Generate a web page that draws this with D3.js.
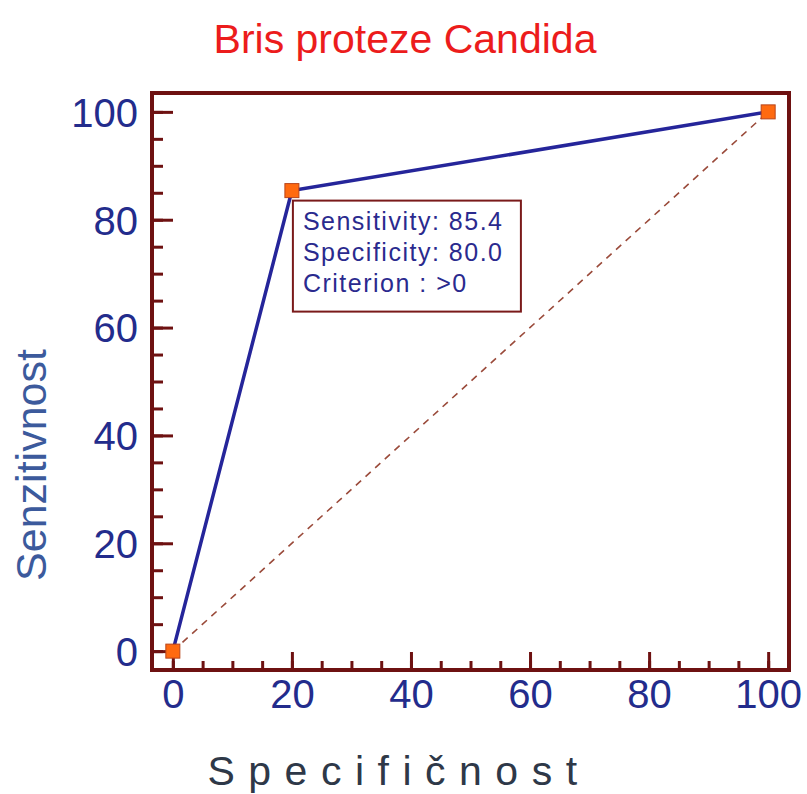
<!DOCTYPE html>
<html>
<head>
<meta charset="utf-8">
<script src="https://cdn.jsdelivr.net/npm/d3@7"></script>
<style>
  body { margin: 0; background: #fff; }
  text { font-family: "Liberation Sans", Arial, sans-serif; }
</style>
</head>
<body>
<script>
// ROC curve data
var specificity = [0, 20, 100];   // 100 - specificity
var sensitivity = [0, 85.4, 100];
var diagonal = [0, 100];
var majorTicks = [0, 20, 40, 60, 80, 100];
var minorTicks = d3.range(0, 101, 5);
var boxLines = ['Sensitivity: 85.4', 'Specificity: 80.0', 'Criterion : >0'];

var points = specificity.map(function(d, i) { return {x: d, y: sensitivity[i]}; });

var width = 807, height = 794;
var frame = {left: 152, right: 789, top: 93, bottom: 670};

var x = d3.scaleLinear().domain([-3.5, 103.5]).range([frame.left, frame.right]);
var y = d3.scaleLinear().domain([-3.5, 103.5]).range([frame.bottom, frame.top]);

var svg = d3.select('body').append('svg')
    .attr('width', width)
    .attr('height', height);

var axisColor = '#6e1111';
var labelColor = '#232c8c';

// title
svg.append('text')
    .attr('x', 405)
    .attr('y', 53)
    .attr('text-anchor', 'middle')
    .style('font-size', '41px')
    .style('fill', '#ec1c1c')
    .text('Bris proteze Candida');

// minor ticks
svg.append('g')
    .attr('transform', 'translate(' + frame.left + ',0)')
    .call(d3.axisLeft(y).tickValues(minorTicks).tickSizeInner(-11).tickSizeOuter(0).tickFormat(''))
    .call(function(g) { g.select('.domain').remove(); });
svg.append('g')
    .attr('transform', 'translate(0,' + frame.bottom + ')')
    .call(d3.axisBottom(x).tickValues(minorTicks).tickSizeInner(-9).tickSizeOuter(0).tickFormat(''))
    .call(function(g) { g.select('.domain').remove(); });

// major ticks + labels
var yAxis = svg.append('g')
    .attr('transform', 'translate(' + frame.left + ',0)')
    .call(d3.axisLeft(y).tickValues(majorTicks).tickSizeInner(-21).tickSizeOuter(0).tickPadding(14));
yAxis.select('.domain').remove();

var xAxis = svg.append('g')
    .attr('transform', 'translate(0,' + frame.bottom + ')')
    .call(d3.axisBottom(x).tickValues(majorTicks).tickSizeInner(-18).tickSizeOuter(0).tickPadding(10));
xAxis.select('.domain').remove();

svg.selectAll('.tick line')
    .style('stroke', axisColor)
    .style('stroke-width', 3);

yAxis.selectAll('text')
    .attr('dy', '0.36em')
    .style('font-size', '40px')
    .style('font-family', '"Liberation Sans", Arial, sans-serif')
    .style('fill', labelColor);

xAxis.selectAll('text')
    .attr('dy', '0.71em')
    .style('font-size', '40px')
    .style('font-family', '"Liberation Sans", Arial, sans-serif')
    .style('fill', labelColor);

// frame
svg.append('rect')
    .attr('x', frame.left)
    .attr('y', frame.top)
    .attr('width', frame.right - frame.left)
    .attr('height', frame.bottom - frame.top)
    .style('fill', 'none')
    .style('stroke', axisColor)
    .style('stroke-width', 4);

// diagonal reference line
svg.append('line')
    .attr('x1', x(diagonal[0])).attr('y1', y(diagonal[0]))
    .attr('x2', x(diagonal[1])).attr('y2', y(diagonal[1]))
    .style('stroke', '#9a4a3a')
    .style('stroke-width', 1.6)
    .style('stroke-dasharray', '7,6');

// ROC curve
var line = d3.line()
    .x(function(d) { return x(d.x); })
    .y(function(d) { return y(d.y); });

svg.append('path')
    .datum(points)
    .attr('d', line)
    .style('fill', 'none')
    .style('stroke', '#25259a')
    .style('stroke-width', 3.5);

// markers
svg.selectAll('.pt')
    .data(points)
    .enter()
    .append('rect')
    .attr('class', 'pt')
    .attr('x', function(d) { return x(d.x) - 7; })
    .attr('y', function(d) { return y(d.y) - 7; })
    .attr('width', 14)
    .attr('height', 14)
    .style('fill', '#ff6a10')
    .style('stroke', '#b8441a')
    .style('stroke-width', 1);

// info box
var bx = x(specificity[1]) + 1, by = y(sensitivity[1]) + 10;
svg.append('rect')
    .attr('x', bx)
    .attr('y', by)
    .attr('width', 228)
    .attr('height', 111)
    .style('fill', '#fff')
    .style('stroke', '#7a1a1a')
    .style('stroke-width', 2);

svg.selectAll('.info')
    .data(boxLines)
    .enter()
    .append('text')
    .attr('class', 'info')
    .attr('x', bx + 10)
    .attr('y', function(d, i) { return by + 29 + i * 31; })
    .style('font-size', '25px')
    .style('letter-spacing', '1.5px')
    .style('fill', '#2a2a8e')
    .text(function(d) { return d; });

// axis titles
svg.append('text')
    .attr('transform', 'translate(46,465) rotate(-90)')
    .attr('text-anchor', 'middle')
    .style('font-size', '43px')
    .style('fill', '#3c5a9c')
    .text('Senzitivnost');

svg.append('text')
    .attr('x', 399)
    .attr('y', 785)
    .attr('text-anchor', 'middle')
    .style('font-size', '41px')
    .style('letter-spacing', '13.5px')
    .style('fill', '#2e3848')
    .text('Specifičnost');
</script>
</body>
</html>
